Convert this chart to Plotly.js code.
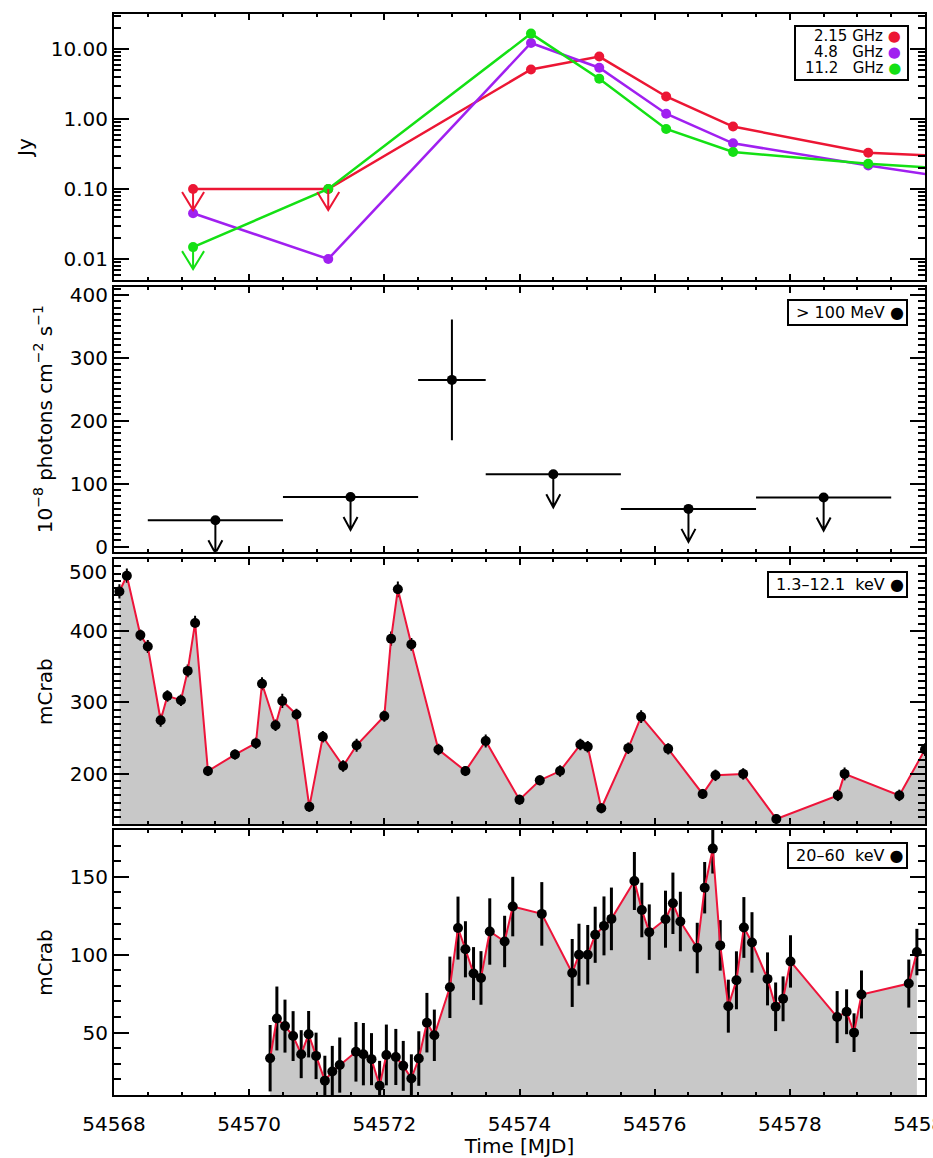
<!DOCTYPE html>
<html><head><meta charset="utf-8">
<script src="https://cdn.plot.ly/plotly-3.0.1.min.js"></script>
<style>html,body{margin:0;padding:0;background:#fff}</style>
</head><body>
<div id="chart" style="width:933px;height:1158px"></div>
<script>
// ---------- Radio (panel 1) ----------
const radioTime = [54569.17, 54571.17, 54574.17, 54575.18, 54576.17, 54577.16, 54579.16, 54580.16];
const flux215 = [0.10, 0.10, 5.1, 7.8, 2.1, 0.78, 0.33, 0.30];
const flux48  = [0.045, 0.010, 12.2, 5.4, 1.19, 0.45, 0.217, 0.155];
const flux112 = [0.0148, 0.10, 16.6, 3.77, 0.72, 0.338, 0.23, 0.20];
const upper215 = [true, true, false, false, false, false, false, false];
const upper48  = [false, false, false, false, false, false, false, false];
const upper112 = [true, false, false, false, false, false, false, false];
const radioLabels = ['2.15&nbsp;GHz', '4.8&nbsp;&nbsp;&nbsp;GHz', '11.2&nbsp;&nbsp;&nbsp;GHz'];

// ---------- Gamma rays (panel 2) ----------
const gammaTime = [54569.5, 54571.5, 54573.0, 54574.5, 54576.5, 54578.5];
const gammaHalfBin = [1, 1, 0.5, 1, 1, 1];
const gammaFlux = [42, 79, 265, 115, 60, 78];
const gammaErr = [0, 0, 96, 0, 0, 0];
const gammaUpper = [true, true, false, true, true, true];
const gammaLabel = '&gt; 100 MeV';

// ---------- 1.3-12.1 keV (panel 3) ----------
const asmTime = [54568.08, 54568.19, 54568.39, 54568.50, 54568.69, 54568.79, 54568.99, 54569.09, 54569.20, 54569.39,
  54569.79, 54570.10, 54570.19, 54570.39, 54570.49, 54570.70, 54570.89, 54571.09, 54571.39, 54571.59,
  54572.00, 54572.10, 54572.20, 54572.40, 54572.80, 54573.20, 54573.50, 54574.00, 54574.30, 54574.60,
  54574.90, 54575.01, 54575.21, 54575.61, 54575.80, 54576.20, 54576.71, 54576.90, 54577.31, 54577.80,
  54578.71, 54578.81, 54579.62, 54580.00];
const asmRate = [455, 477, 394, 378, 275, 309, 303, 344, 411, 204,
  227, 243, 326, 268, 302, 283, 154, 252, 211, 240,
  281, 389, 458, 381, 234, 204, 246, 164, 191, 204,
  241, 238, 152, 236, 280, 235, 172, 198, 200, 137,
  170, 200, 170, 234];
const asmErr = [10, 10, 8, 9, 9, 8, 8, 9, 10, 7,
  7, 8, 9, 8, 10, 8, 7, 8, 8, 9,
  8, 10, 11, 9, 8, 7, 9, 7, 7, 8,
  8, 8, 7, 8, 9, 8, 7, 8, 8, 7,
  8, 9, 8, 9];
const asmLabel = '1.3\u201312.1&nbsp;&nbsp;keV';
const asmTickVals = [200, 300, 400, 500];
const asmTickText = ['200', '300', '400', ''];
const asmTopLabel = '500';

// ---------- 20-60 keV (panel 4) ----------
const batTime = [54570.31, 54570.41, 54570.53, 54570.65, 54570.77, 54570.88, 54570.99, 54571.12, 54571.23, 54571.34,
  54571.58, 54571.69, 54571.81, 54571.93, 54572.03, 54572.17, 54572.28, 54572.40, 54572.51, 54572.63,
  54572.74, 54572.97, 54573.09, 54573.20, 54573.32, 54573.43, 54573.56, 54573.78, 54573.90, 54574.33,
  54574.78, 54574.88, 54575.01, 54575.12, 54575.25, 54575.36, 54575.70, 54575.81, 54575.92, 54576.16,
  54576.27, 54576.38, 54576.63, 54576.74, 54576.86, 54576.97, 54577.09, 54577.21, 54577.32, 54577.44,
  54577.67, 54577.79, 54577.90, 54578.01, 54578.70, 54578.84, 54578.95, 54579.06, 54579.76, 54579.88];
const batRate = [33.6, 59.1, 54.2, 47.8, 36.2, 49.0, 35.1, 19.2, 25.1, 29.2,
  37.7, 36.2, 33.0, 15.9, 35.7, 34.4, 28.7, 20.6, 33.4, 56.4,
  48.3, 79.1, 117.1, 103.5, 87.9, 85.1, 114.9, 108.5, 130.9, 126.2,
  88.3, 100, 100, 112.8, 118.5, 123, 147.3, 128.7, 114.5, 122.8,
  133, 121.3, 104.3, 143, 168.1, 106, 67, 83.6, 117.5, 107.9,
  84.5, 66.6, 71.7, 95.7, 60, 63.4, 50, 74.5, 81.5, 101.7];
const batErr = [21.3, 20.5, 17, 16, 15.4, 14.9, 14.9, 16, 16.4, 17.7,
  19.1, 20, 16.7, 16, 19.5, 18, 16, 15.5, 17.5, 19.1,
  16.5, 19.7, 20.2, 18, 17, 17.2, 21.3, 16.5, 19.1, 20.4,
  21.8, 19.9, 19.1, 18, 18.9, 20.1, 18.6, 17.5, 17.8, 18.3,
  19.7, 19.1, 16.2, 16.5, 16, 16.2, 17, 18.6, 19.5, 19.4,
  17, 15.6, 14.4, 16.8, 16.7, 14.4, 12.4, 15.4, 15.4, 14.9];
const batLabel = '20\u201360&nbsp;&nbsp;keV';

// ---------- styles ----------
const RED = 'rgb(236,22,52)';
const PURPLE = 'rgb(160,32,240)';
const GREEN = 'rgb(20,224,20)';
const LINE_RED = 'rgb(238,20,58)';
const FILL = 'rgb(200,200,200)';
const FONT = 'DejaVu Sans';

const traces = [];
function radioTrace(y, color) {
  return {x: radioTime, y: y, xaxis: 'x', yaxis: 'y', mode: 'lines+markers', type: 'scatter',
    line: {color: color, width: 2.5}, marker: {color: color, size: 10}, showlegend: false, hoverinfo: 'skip'};
}
traces.push(radioTrace(flux215, RED));
traces.push(radioTrace(flux48, PURPLE));
traces.push(radioTrace(flux112, GREEN));

traces.push({x: gammaTime, y: gammaFlux, xaxis: 'x2', yaxis: 'y2', mode: 'markers', type: 'scatter',
  marker: {color: 'black', size: 10},
  error_x: {type: 'data', array: gammaHalfBin, color: 'black', thickness: 2, width: 0},
  error_y: {type: 'data', array: gammaErr, color: 'black', thickness: 2, width: 0, visible: true},
  showlegend: false, hoverinfo: 'skip'});

traces.push({x: asmTime, y: asmRate, xaxis: 'x3', yaxis: 'y3', mode: 'lines+markers', type: 'scatter',
  fill: 'tozeroy', fillcolor: FILL, line: {color: LINE_RED, width: 2},
  marker: {color: 'black', size: 10},
  error_y: {type: 'data', array: asmErr, color: 'black', thickness: 2, width: 0},
  showlegend: false, hoverinfo: 'skip'});

traces.push({x: batTime, y: batRate, xaxis: 'x4', yaxis: 'y4', mode: 'lines+markers', type: 'scatter',
  fill: 'tozeroy', fillcolor: FILL, line: {color: LINE_RED, width: 2},
  marker: {color: 'black', size: 10},
  error_y: {type: 'data', array: batErr, color: 'black', thickness: 3, width: 0},
  showlegend: false, hoverinfo: 'skip'});

// ---------- upper-limit arrows (shapes anchored on data, sized in pixels) ----------
const shapes = [];
function arrow(xr, yr, xv, yv, color, len, hw, hh) {
  shapes.push({type: 'path', xref: xr, yref: yr, xsizemode: 'pixel', ysizemode: 'pixel',
    xanchor: xv, yanchor: yv,
    path: 'M0,0L0,' + (-len) + 'M' + (-hw) + ',' + (-len + hh) + 'L0,' + (-len) + 'L' + hw + ',' + (-len + hh),
    line: {color: color, width: 2}});
}
radioTime.forEach((t, i) => {
  if (upper215[i]) arrow('x', 'y', t, flux215[i], RED, 21, 11, 18);
  if (upper48[i]) arrow('x', 'y', t, flux48[i], PURPLE, 21, 11, 18);
  if (upper112[i]) arrow('x', 'y', t, flux112[i], GREEN, 22, 11, 18);
});
gammaTime.forEach((t, i) => {
  if (gammaUpper[i]) arrow('x2', 'y2', t, gammaFlux[i], 'black', 33, 7, 13);
});

// radio legend box (pixel rectangle anchored at the top-right corner of panel 1)
shapes.push({type: 'path', xref: 'x domain', yref: 'y domain', xsizemode: 'pixel', ysizemode: 'pixel',
  xanchor: 1, yanchor: 1, path: 'M-130,-12L-17,-12L-17,-66L-130,-66Z',
  line: {color: 'black', width: 2}, fillcolor: 'white', layer: 'above'});

// ---------- legend texts ----------
function dot(c) { return '&nbsp;<span style="color:' + c + '">\u25CF</span>'; }
const legendCommon = {xanchor: 'right', yanchor: 'top', x: 1, y: 1, xshift: -17, yshift: -12,
  showarrow: false, align: 'right', bordercolor: 'black', borderwidth: 2, borderpad: 2, bgcolor: 'white',
  font: {family: FONT, size: 16, color: 'black'}};
const radioColors = [RED, PURPLE, GREEN];
const annotations = radioLabels.map((lab, i) => ({
  xref: 'x domain', yref: 'y domain', x: 1, y: 1, xanchor: 'right', yanchor: 'middle',
  xshift: -22, yshift: -22 - i * 15.8, showarrow: false, align: 'right',
  text: lab + dot(radioColors[i]), font: {family: FONT, size: 15, color: 'black'}
}));
annotations.push(Object.assign({}, legendCommon, {xref: 'x2 domain', yref: 'y2 domain', text: '&nbsp;' + gammaLabel + dot('black')}));
annotations.push(Object.assign({}, legendCommon, {xref: 'x3 domain', yref: 'y3 domain', text: '&nbsp;' + asmLabel + dot('black')}));
annotations.push(Object.assign({}, legendCommon, {xref: 'x4 domain', yref: 'y4 domain', text: '&nbsp;' + batLabel + dot('black')}));
// top tick label of panel 3, drawn just inside the panel like the reference
annotations.push({xref: 'x3 domain', yref: 'y3', x: 0, y: 500, xanchor: 'right', yanchor: 'top',
  xshift: -5, yshift: 1, showarrow: false, text: asmTopLabel, font: {family: FONT, size: 20, color: 'black'}});

// ---------- axes ----------
function xAxis(anchor, labels) {
  const a = {anchor: anchor, range: [54568, 54580], tick0: 54568, dtick: 2,
    ticks: 'inside', ticklen: 6, tickwidth: 2, tickcolor: 'black',
    minor: {dtick: 0.5, ticks: 'inside', ticklen: 3, tickwidth: 2, tickcolor: 'black', showgrid: false},
    showline: true, linewidth: 2, linecolor: 'black', mirror: 'allticks',
    showgrid: false, zeroline: false, showticklabels: labels, tickformat: 'd',
    ticklabeloverflow: 'allow',
    tickfont: {family: FONT, size: 20, color: 'black'}};
  if (labels) {
    a.title = {text: 'Time [MJD]', font: {family: FONT, size: 20, color: 'black'}, standoff: 8};
    a.ticklabelstandoff = 10;
  } else {
    a.matches = 'x4';
  }
  return a;
}
function yAxis(anchor, domain, extra) {
  return Object.assign({anchor: anchor, domain: domain,
    ticks: 'inside', ticklen: 15, tickwidth: 2, tickcolor: 'black',
    showline: true, linewidth: 2, linecolor: 'black', mirror: 'allticks',
    showgrid: false, zeroline: false,
    tickfont: {family: FONT, size: 20, color: 'black'}}, extra);
}
const yTitleFont = {family: FONT, size: 20, color: 'black'};
const minorY = {dtick: 10, ticks: 'inside', ticklen: 7, tickwidth: 2, tickcolor: 'black', showgrid: false};

const layout = {
  width: 933, height: 1158,
  margin: {l: 114, r: 8, t: 14, b: 63},
  paper_bgcolor: 'white', plot_bgcolor: 'white',
  font: {family: FONT, size: 20, color: 'black'},
  showlegend: false,
  xaxis: xAxis('y', false),
  xaxis2: xAxis('y2', false),
  xaxis3: xAxis('y3', false),
  xaxis4: xAxis('y4', true),
  yaxis: yAxis('x', [0.7539, 1], {type: 'log', range: [-2.3, 1.5], dtick: 1, tickformat: '.2f',
    minor: {dtick: 'D1', ticks: 'inside', ticklen: 7, tickwidth: 2, tickcolor: 'black', showgrid: false},
    title: {text: 'Jy', font: yTitleFont, standoff: 13}}),
  yaxis2: yAxis('x2', [0.5026, 0.7477], {range: [-8, 413], tick0: 0, dtick: 100, minor: minorY,
    title: {text: '10<sup>\u22128</sup> photons cm<sup>\u22122</sup> s<sup>\u22121</sup>', font: yTitleFont, standoff: 12}}),
  yaxis3: yAxis('x3', [0.2507, 0.4956], {range: [130, 500], tickmode: 'array', tickvals: asmTickVals, ticktext: asmTickText, minor: Object.assign({}, minorY, {tickmode: 'linear', tick0: 0}),
    title: {text: 'mCrab', font: yTitleFont, standoff: 12}}),
  yaxis4: yAxis('x4', [0, 0.2451], {range: [10, 180], tick0: 0, dtick: 50, minor: minorY,
    title: {text: 'mCrab', font: yTitleFont, standoff: 12}}),
  shapes: shapes,
  annotations: annotations
};

Plotly.newPlot('chart', traces, layout, {staticPlot: true, displayModeBar: false});
</script>
</body></html>
